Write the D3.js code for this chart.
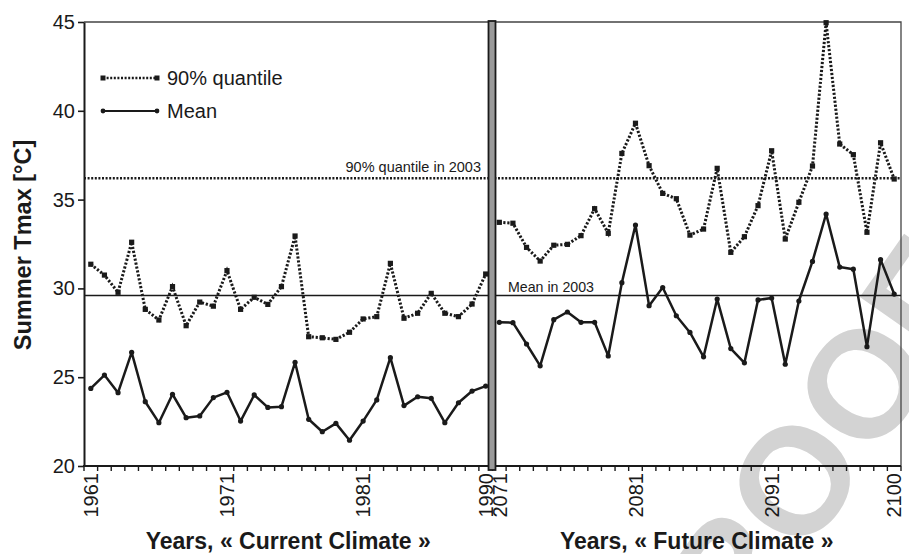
<!DOCTYPE html>
<html>
<head>
<meta charset="utf-8">
<script src="https://cdn.jsdelivr.net/npm/d3@7"></script>
<style>
  body { margin: 0; background: #fff; }
  svg { display: block; }
  text { font-family: "Liberation Sans", Arial, sans-serif; fill: #1a1a1a; }
</style>
</head>
<body>
<svg id="chart" width="909" height="554"></svg>
<script>
// Summer Tmax, current (1961-1990) and future (2071-2100) climate
const currentYears = ["1961","1962","1963","1964","1965","1966","1967","1968","1969","1970",
                      "1971","1972","1973","1974","1975","1976","1977","1978","1979","1980",
                      "1981","1982","1983","1984","1985","1986","1987","1988","1989","1990"];
const futureYears  = ["2071","2072","2073","2074","2075","2076","2077","2078","2079","2080",
                      "2081","2082","2083","2084","2085","2086","2087","2088","2089","2090",
                      "2091","2092","2093","2094","2095","2096","2097","2098","2099","2100"];

const currentQ90  = [31.36, 30.75, 29.78, 32.6, 28.82, 28.22, 30.1, 27.9, 29.23, 29.0,
                     31.0, 28.82, 29.5, 29.1, 30.1, 32.95, 27.28, 27.22, 27.13, 27.53,
                     28.28, 28.41, 31.41, 28.32, 28.6, 29.72, 28.6, 28.41, 29.12, 30.81];
const currentMean = [24.37, 25.12, 24.13, 26.4, 23.62, 22.44, 24.04, 22.72, 22.82, 23.85,
                     24.15, 22.53, 24.0, 23.3, 23.34, 25.84, 22.63, 21.93, 22.4, 21.45,
                     22.53, 23.72, 26.1, 23.4, 23.9, 23.81, 22.44, 23.56, 24.22, 24.5];
const futureQ90   = [33.72, 33.67, 32.31, 31.54, 32.43, 32.48, 32.97, 34.49, 33.1, 37.6,
                     39.3, 36.91, 35.35, 35.05, 33.0, 33.34, 36.76, 32.03, 32.91, 34.66,
                     37.75, 32.78, 34.85, 36.89, 44.96, 38.13, 37.53, 33.16, 38.2, 36.16];
const futureMean  = [28.09, 28.07, 26.87, 25.64, 28.24, 28.67, 28.09, 28.09, 26.2, 30.32,
                     33.57, 29.03, 30.05, 28.46, 27.52, 26.15, 29.4, 26.61, 25.81, 29.35,
                     29.46, 25.73, 29.29, 31.52, 34.19, 31.2, 31.08, 26.72, 31.62, 29.68];

const q90In2003  = 36.2;
const meanIn2003 = 29.6;

const yTicks = [20, 25, 30, 35, 40, 45];
const xTickLabels = ["1961", "1971", "1981", "1990", "2071", "2081", "2091", "2100"];

const seriesNames = ["90% quantile", "Mean"];
const refLabels = ["90% quantile in 2003", "Mean in 2003"];
const xTitles = ["Years, \u00AB Current Climate \u00BB", "Years, \u00AB Future Climate \u00BB"];
const yTitle = "Summer Tmax [\u00B0C]";

// ---------------------------------------------------------------
const svg = d3.select("#chart");
const ink = "#1a1a1a";
const plotL = 84, plotR = 901, plotT = 22, plotB = 466;

const allYears = currentYears.concat(futureYears);
const x = d3.scaleBand().domain(allYears).range([plotL, plotR]);
const cx = yr => x(yr) + x.bandwidth() / 2;
const y = d3.scaleLinear().domain([20, 45]).range([plotB, plotT]);

// watermark, behind everything
svg.append("text")
  .attr("transform", "translate(683,732) rotate(-55)")
  .attr("font-size", 152).attr("font-weight", "bold")
  .style("fill", "#d3d3d3")
  .text("PROOF");

// frame: top and right edges
svg.append("path")
  .attr("d", `M${plotL},${plotT}H${plotR}V${plotB}`)
  .attr("fill", "none").attr("stroke", "#444").attr("stroke-width", 1.3);

// reference levels
svg.append("line")
  .attr("x1", plotL).attr("x2", plotR)
  .attr("y1", y(q90In2003)).attr("y2", y(q90In2003))
  .attr("stroke", ink).attr("stroke-width", 2.6)
  .attr("stroke-dasharray", "2,1.6");
svg.append("line")
  .attr("x1", plotL).attr("x2", plotR)
  .attr("y1", y(meanIn2003)).attr("y2", y(meanIn2003))
  .attr("stroke", ink).attr("stroke-width", 1.3);

svg.append("text")
  .attr("x", 481).attr("y", y(q90In2003) - 6.5)
  .attr("text-anchor", "end").attr("font-size", 14.5)
  .text(refLabels[0]);
svg.append("text")
  .attr("x", 508).attr("y", y(meanIn2003) - 4)
  .attr("font-size", 14.2)
  .text(refLabels[1]);

// y axis
const yAxis = svg.append("g")
  .attr("transform", `translate(${plotL},0)`)
  .call(d3.axisLeft(y).tickValues(yTicks).tickSize(6).tickPadding(3).tickSizeOuter(0));
yAxis.select(".domain").attr("stroke", ink).attr("stroke-width", 2);
yAxis.selectAll(".tick line").attr("stroke", ink).attr("stroke-width", 1.6);
yAxis.selectAll(".tick text").attr("font-size", 20).attr("font-family", null).style("fill", "#1a1a1a");

// x axis: baseline, tick at every category boundary, rotated labels
const xAxis = svg.append("g");
xAxis.append("line")
  .attr("x1", plotL - 1).attr("x2", plotR)
  .attr("y1", plotB).attr("y2", plotB)
  .attr("stroke", ink).attr("stroke-width", 2);
xAxis.selectAll("line.tk")
  .data(allYears.concat(["end"]))
  .join("line").attr("class", "tk")
  .attr("x1", d => d === "end" ? plotR : x(d))
  .attr("x2", d => d === "end" ? plotR : x(d))
  .attr("y1", plotB).attr("y2", plotB + 5)
  .attr("stroke", ink).attr("stroke-width", 1.4);
xAxis.selectAll("text.lbl")
  .data(xTickLabels)
  .join("text").attr("class", "lbl")
  .attr("transform", d => `translate(${cx(d)},${plotB + 7}) rotate(-90)`)
  .attr("text-anchor", "end").attr("dy", "0.36em")
  .attr("font-size", 20)
  .text(d => d);

// divider between the two periods
const xDiv = x(futureYears[0]);
svg.append("rect")
  .attr("x", xDiv - 4).attr("y", plotT - 1)
  .attr("width", 7).attr("height", plotB - plotT + 5)
  .attr("fill", "#9a9a9a").attr("stroke", ink).attr("stroke-width", 1.8);

// series
const line = d3.line().x(d => cx(d.year)).y(d => y(d.v));
function drawPeriod(years, q90, mean) {
  const q = years.map((yr, i) => ({ year: yr, v: q90[i] }));
  const m = years.map((yr, i) => ({ year: yr, v: mean[i] }));
  svg.append("path").datum(q).attr("d", line)
    .attr("fill", "none").attr("stroke", ink).attr("stroke-width", 3)
    .attr("stroke-dasharray", "2.2,1.8");
  svg.append("g").selectAll("rect").data(q).join("rect")
    .attr("x", d => cx(d.year) - 2.6).attr("y", d => y(d.v) - 2.6)
    .attr("width", 5.2).attr("height", 5.2).attr("fill", ink);
  svg.append("path").datum(m).attr("d", line)
    .attr("fill", "none").attr("stroke", ink).attr("stroke-width", 2.5)
    .attr("stroke-linejoin", "round");
  svg.append("g").selectAll("circle").data(m).join("circle")
    .attr("cx", d => cx(d.year)).attr("cy", d => y(d.v)).attr("r", 2.6)
    .attr("fill", ink);
}
drawPeriod(currentYears, currentQ90, currentMean);
drawPeriod(futureYears, futureQ90, futureMean);

// legend
const lg = svg.append("g");
lg.append("line").attr("x1", 103).attr("x2", 157).attr("y1", 78).attr("y2", 78)
  .attr("stroke", ink).attr("stroke-width", 2.6).attr("stroke-dasharray", "2,1.6");
[103, 157].forEach(px => lg.append("rect").attr("x", px - 2.5).attr("y", 75.5)
  .attr("width", 5).attr("height", 5).attr("fill", ink));
lg.append("text").attr("x", 167).attr("y", 85).attr("font-size", 20).text(seriesNames[0]);
lg.append("line").attr("x1", 103).attr("x2", 157).attr("y1", 111).attr("y2", 111)
  .attr("stroke", ink).attr("stroke-width", 2);
[103, 157].forEach(px => lg.append("circle").attr("cx", px).attr("cy", 111)
  .attr("r", 2.4).attr("fill", ink));
lg.append("text").attr("x", 167).attr("y", 118).attr("font-size", 20).text(seriesNames[1]);

// axis titles
svg.append("text")
  .attr("transform", `translate(31,245) rotate(-90)`)
  .attr("text-anchor", "middle").attr("font-size", 23.5).attr("font-weight", "bold")
  .text(yTitle);
svg.append("text")
  .attr("x", (plotL + xDiv) / 2).attr("y", 549)
  .attr("text-anchor", "middle").attr("font-size", 23).attr("font-weight", "bold")
  .text(xTitles[0]);
svg.append("text")
  .attr("x", (xDiv + plotR) / 2).attr("y", 549)
  .attr("text-anchor", "middle").attr("font-size", 23).attr("font-weight", "bold")
  .text(xTitles[1]);
</script>
</body>
</html>
